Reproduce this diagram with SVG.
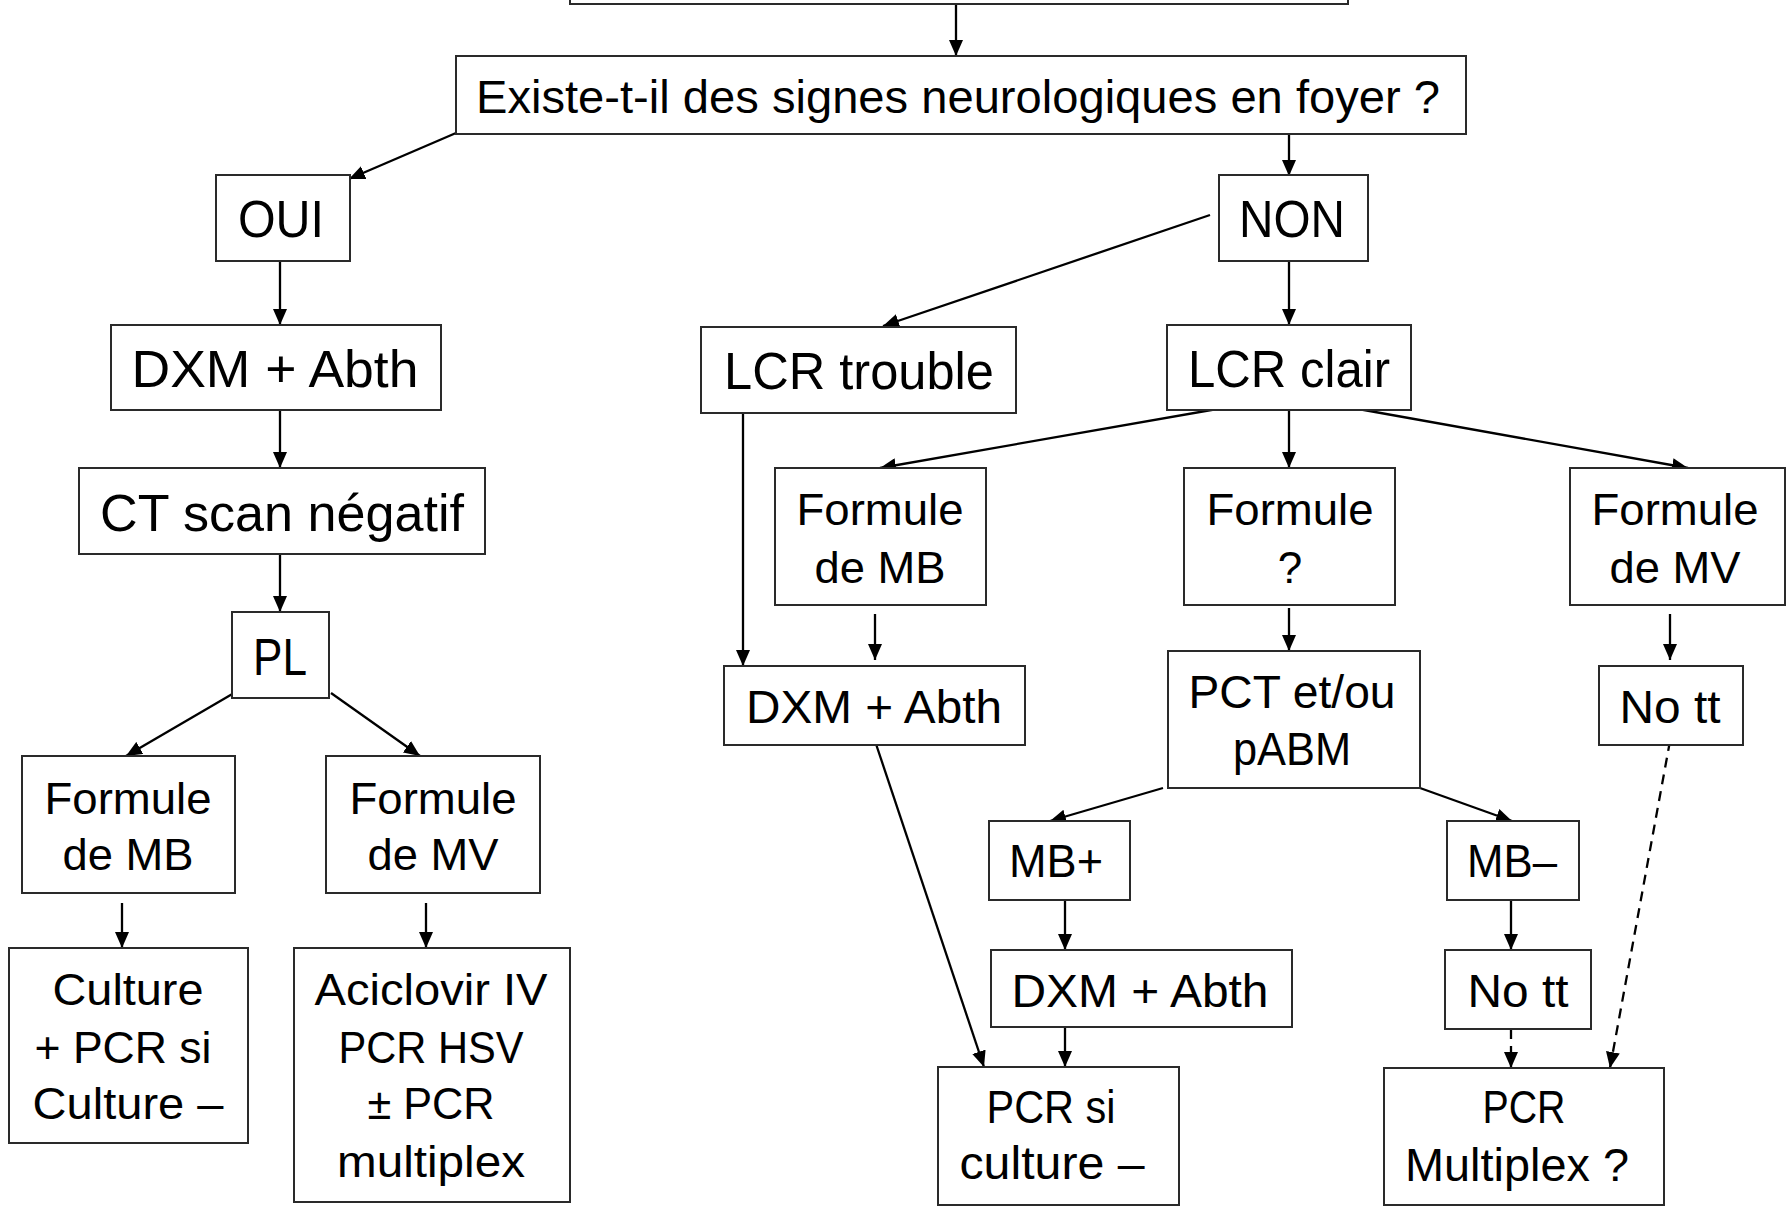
<svg xmlns="http://www.w3.org/2000/svg" width="1786" height="1208" viewBox="0 0 1786 1208">
<style>
.box{fill:#fff;stroke:#2a2a2a;stroke-width:2}
text{font-family:"Liberation Sans",Arial,sans-serif;fill:#000;text-anchor:middle}
.L{font-size:52px}
.M{font-size:46px}
.S{font-size:44px}
.c{stroke:#000;stroke-width:2.3;fill:none;marker-end:url(#ah)}
.d{stroke-dasharray:10,7}
</style>
<defs>
<marker id="ah" markerUnits="userSpaceOnUse" markerWidth="16" markerHeight="14" refX="16" refY="7" orient="auto">
<path d="M0,0 L16,7 L0,14 z" fill="#000"/>
</marker>
</defs>
<rect width="1786" height="1208" fill="#fff"/>
<g id="connectors">
<line class="c" x1="956" y1="5" x2="956" y2="56"/>
<line class="c" x1="456" y1="133" x2="349" y2="179"/>
<line class="c" x1="1289" y1="134" x2="1289" y2="176"/>
<line class="c" x1="280" y1="261" x2="280" y2="325"/>
<line class="c" x1="280" y1="410" x2="280" y2="468"/>
<line class="c" x1="280" y1="554" x2="280" y2="612"/>
<line class="c" x1="234" y1="693" x2="126" y2="756"/>
<line class="c" x1="331" y1="693" x2="420" y2="756"/>
<line class="c" x1="122" y1="903" x2="122" y2="948"/>
<line class="c" x1="426" y1="903" x2="426" y2="948"/>
<line class="c" x1="1210" y1="215" x2="883" y2="326"/>
<line class="c" x1="1289" y1="261" x2="1289" y2="325"/>
<line class="c" x1="1240" y1="405" x2="880" y2="468"/>
<line class="c" x1="1289" y1="405" x2="1289" y2="468"/>
<line class="c" x1="1336" y1="405" x2="1688" y2="468"/>
<line class="c" x1="743" y1="413" x2="743" y2="666"/>
<line class="c" x1="875" y1="614" x2="875" y2="660"/>
<line class="c" x1="1289" y1="608" x2="1289" y2="651"/>
<line class="c" x1="1670" y1="614" x2="1670" y2="660"/>
<line class="c" x1="1163" y1="788" x2="1050" y2="821"/>
<line class="c" x1="1420" y1="788" x2="1512" y2="821"/>
<line class="c" x1="1065" y1="900" x2="1065" y2="950"/>
<line class="c" x1="1511" y1="900" x2="1511" y2="950"/>
<line class="c" x1="1065" y1="1027" x2="1065" y2="1067"/>
<line class="c" x1="875" y1="741" x2="984" y2="1067"/>
<line class="c d" x1="1511" y1="1029" x2="1511" y2="1068"/>
<line class="c d" x1="1670" y1="741" x2="1610" y2="1068"/>
</g>
<g id="n-top"><rect class="box" x="570" y="-10" width="778" height="14"/></g>
<g id="n-existe"><rect class="box" x="456" y="56" width="1010" height="78"/><text class="M" x="958" y="113" textLength="964" lengthAdjust="spacingAndGlyphs">Existe-t-il des signes neurologiques en foyer ?</text></g>
<g id="n-oui"><rect class="box" x="216" y="175" width="134" height="86"/><text class="L" x="281" y="237" textLength="86" lengthAdjust="spacingAndGlyphs">OUI</text></g>
<g id="n-non"><rect class="box" x="1219" y="175" width="149" height="86"/><text class="L" x="1292" y="237" textLength="106" lengthAdjust="spacingAndGlyphs">NON</text></g>
<g id="n-dxm1"><rect class="box" x="111" y="325" width="330" height="85"/><text class="L" x="275" y="387" textLength="287" lengthAdjust="spacingAndGlyphs">DXM + Abth</text></g>
<g id="n-ct"><rect class="box" x="79" y="468" width="406" height="86"/><text class="L" x="282" y="531" textLength="364" lengthAdjust="spacingAndGlyphs">CT scan négatif</text></g>
<g id="n-pl"><rect class="box" x="232" y="612" width="97" height="86"/><text class="L" x="280" y="675" textLength="54" lengthAdjust="spacingAndGlyphs">PL</text></g>
<g id="n-fmb1"><rect class="box" x="22" y="756" width="213" height="137"/><text class="S" x="128" y="814" textLength="167" lengthAdjust="spacingAndGlyphs">Formule</text><text class="S" x="128" y="870" textLength="131" lengthAdjust="spacingAndGlyphs">de MB</text></g>
<g id="n-fmv1"><rect class="box" x="326" y="756" width="214" height="137"/><text class="S" x="433" y="814" textLength="167" lengthAdjust="spacingAndGlyphs">Formule</text><text class="S" x="433" y="870" textLength="131" lengthAdjust="spacingAndGlyphs">de MV</text></g>
<g id="n-culture"><rect class="box" x="9" y="948" width="239" height="195"/><text class="S" x="128" y="1005" textLength="151" lengthAdjust="spacingAndGlyphs">Culture</text><text class="S" x="123" y="1063" textLength="177" lengthAdjust="spacingAndGlyphs">+ PCR si</text><text class="S" x="128" y="1119" textLength="191" lengthAdjust="spacingAndGlyphs">Culture –</text></g>
<g id="n-aciclovir"><rect class="box" x="294" y="948" width="276" height="254"/><text class="S" x="431" y="1005" textLength="233" lengthAdjust="spacingAndGlyphs">Aciclovir IV</text><text class="S" x="431" y="1063" textLength="185" lengthAdjust="spacingAndGlyphs">PCR HSV</text><text class="S" x="431" y="1119" textLength="127" lengthAdjust="spacingAndGlyphs">± PCR</text><text class="S" x="431" y="1177" textLength="188" lengthAdjust="spacingAndGlyphs">multiplex</text></g>
<g id="n-lcrt"><rect class="box" x="701" y="327" width="315" height="86"/><text class="L" x="859" y="389" textLength="270" lengthAdjust="spacingAndGlyphs">LCR trouble</text></g>
<g id="n-lcrc"><rect class="box" x="1167" y="325" width="244" height="85"/><text class="L" x="1289" y="387" textLength="202" lengthAdjust="spacingAndGlyphs">LCR clair</text></g>
<g id="n-fmb2"><rect class="box" x="775" y="468" width="211" height="137"/><text class="S" x="880" y="525" textLength="167" lengthAdjust="spacingAndGlyphs">Formule</text><text class="S" x="880" y="583" textLength="131" lengthAdjust="spacingAndGlyphs">de MB</text></g>
<g id="n-fq"><rect class="box" x="1184" y="468" width="211" height="137"/><text class="S" x="1290" y="525" textLength="167" lengthAdjust="spacingAndGlyphs">Formule</text><text class="S" x="1290" y="583">?</text></g>
<g id="n-fmv2"><rect class="box" x="1570" y="468" width="215" height="137"/><text class="S" x="1675" y="525" textLength="167" lengthAdjust="spacingAndGlyphs">Formule</text><text class="S" x="1675" y="583" textLength="131" lengthAdjust="spacingAndGlyphs">de MV</text></g>
<g id="n-dxm2"><rect class="box" x="724" y="666" width="301" height="79"/><text class="M" x="874" y="723" textLength="256" lengthAdjust="spacingAndGlyphs">DXM + Abth</text></g>
<g id="n-pct"><rect class="box" x="1168" y="651" width="252" height="137"/><text class="M" x="1292" y="708" textLength="207" lengthAdjust="spacingAndGlyphs">PCT et/ou</text><text class="M" x="1292" y="765" textLength="118" lengthAdjust="spacingAndGlyphs">pABM</text></g>
<g id="n-nott1"><rect class="box" x="1599" y="666" width="144" height="79"/><text class="M" x="1670" y="723" textLength="101" lengthAdjust="spacingAndGlyphs">No tt</text></g>
<g id="n-mbp"><rect class="box" x="989" y="821" width="141" height="79"/><text class="M" x="1056" y="877" textLength="94" lengthAdjust="spacingAndGlyphs">MB+</text></g>
<g id="n-mbm"><rect class="box" x="1447" y="821" width="132" height="79"/><text class="M" x="1512" y="877" textLength="90" lengthAdjust="spacingAndGlyphs">MB–</text></g>
<g id="n-dxm3"><rect class="box" x="991" y="950" width="301" height="77"/><text class="M" x="1140" y="1007" textLength="257" lengthAdjust="spacingAndGlyphs">DXM + Abth</text></g>
<g id="n-nott2"><rect class="box" x="1445" y="950" width="146" height="79"/><text class="M" x="1518" y="1007" textLength="101" lengthAdjust="spacingAndGlyphs">No tt</text></g>
<g id="n-pcrsi"><rect class="box" x="938" y="1067" width="241" height="138"/><text class="M" x="1051" y="1123" textLength="129" lengthAdjust="spacingAndGlyphs">PCR si</text><text class="M" x="1052" y="1179" textLength="185" lengthAdjust="spacingAndGlyphs">culture –</text></g>
<g id="n-pcrm"><rect class="box" x="1384" y="1068" width="280" height="137"/><text class="M" x="1524" y="1123" textLength="83" lengthAdjust="spacingAndGlyphs">PCR</text><text class="M" x="1517" y="1181" textLength="224" lengthAdjust="spacingAndGlyphs">Multiplex ?</text></g>
</svg>
